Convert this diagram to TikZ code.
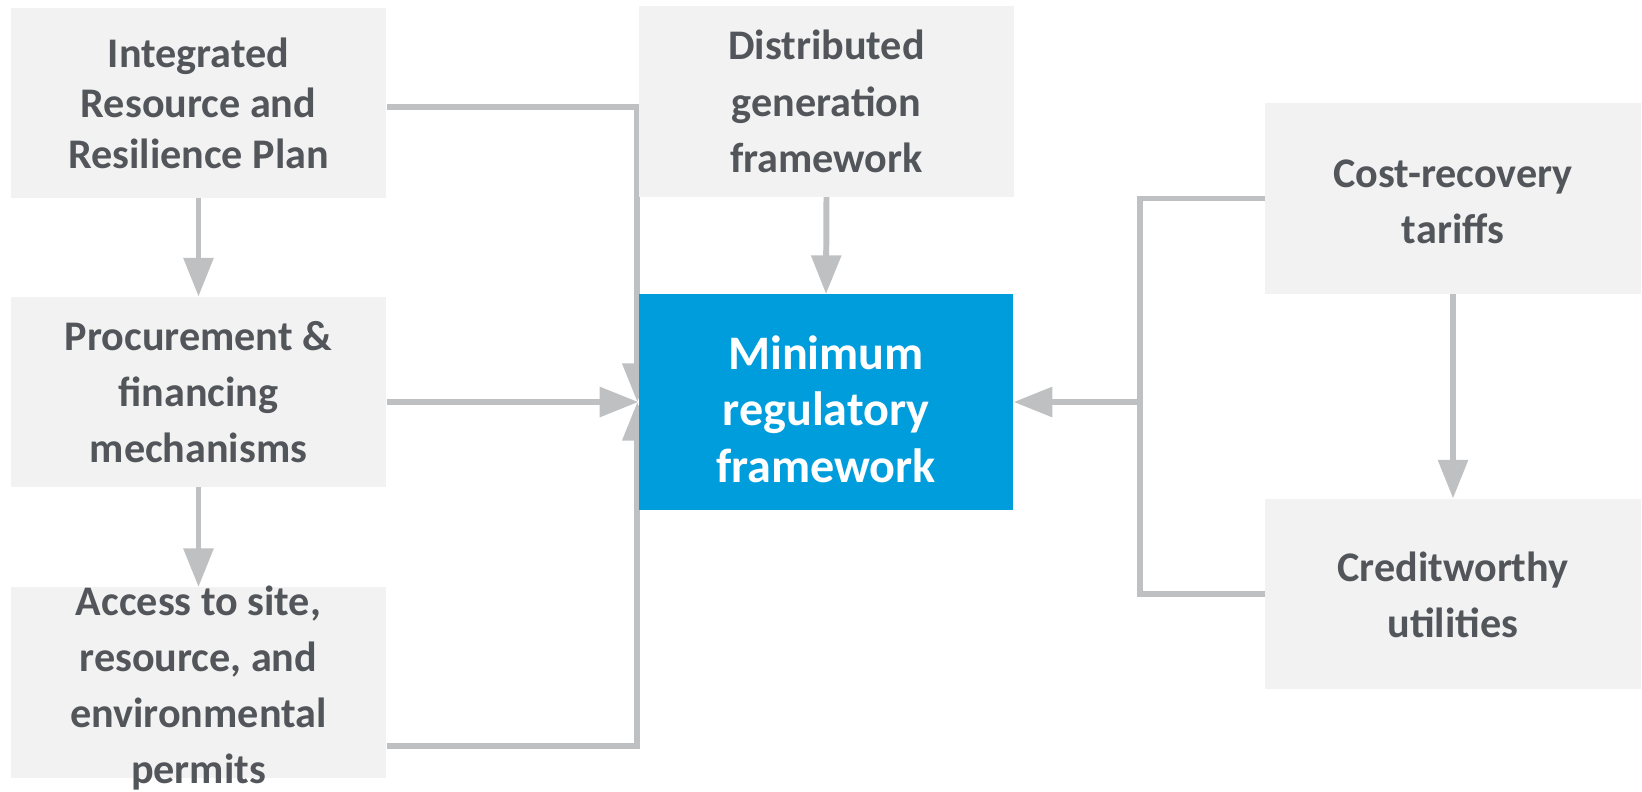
\documentclass[tikz,border=0pt]{standalone}
\usepackage{fontspec}
\setmainfont{Carlito}
\usetikzlibrary{arrows.meta,backgrounds}
\definecolor{boxgray}{RGB}{242,242,242}
\definecolor{textgray}{RGB}{82,85,89}
\definecolor{framework}{RGB}{0,157,220}
\definecolor{linkgray}{RGB}{191,192,194}

\begin{document}
\begin{tikzpicture}[x=0.02cm, y=-0.02cm,
  box/.style={fill=boxgray, text=textgray, minimum width=213.7pt, minimum height=108.3pt,
    inner sep=0pt, align=center, font=\fontsize{24}{32}\selectfont\bfseries},
  boxtext/.style={text=textgray, inner sep=0pt, align=center, font=\fontsize{24}{31.9}\selectfont\bfseries},
  core/.style={fill=framework, text=white, minimum width=213.2pt, minimum height=122.5pt,
    inner sep=0pt, align=center, font=\fontsize{27.4}{32.3}\selectfont\bfseries},
  link/.style={draw=linkgray, line width=3.4pt},
  arrow/.style={link, -{Triangle[width=16.5pt,length=22pt]}}]
  \useasboundingbox (0,0) rectangle (1642,791);
  % Left column
  \node[box, font=\fontsize{24}{28.8}\selectfont\bfseries] (irrp) at (198.5,103)
    {Integrated\\Resource and\\Resilience Plan};
  \node[box] (proc) at (198.5,392) {Procurement \&\\financing\\mechanisms};
  \node[box] (access) at (198.5,682.5) {};
  \node[boxtext] (accesstext) at (198.5,688) {Access to site,\\resource, and\\environmental\\permits};
  % Middle column
  \node[box] (dist) at (826.5,101.5) {Distributed\\generation\\framework};
  \node[core] (core) at (826,402) {\rule{0pt}{27.5pt}Minimum\\regulatory\\framework};
  % Right column
  \node[box] (cost) at (1453,198.5) {\rule{0pt}{19.6pt}Cost-recovery\\tariffs};
  \node[box] (credit) at (1453,594) {\rule{0pt}{17.8pt}Creditworthy\\utilities};
  % Connectors
  \begin{scope}[on background layer]
    \draw[arrow] (irrp.south) -- (proc.north);
    \draw[arrow] (proc.south) -- (access.north);
    \draw[arrow] ([yshift=-2.5pt]irrp.east) -| ([xshift=-0.6pt]core.west);
    \draw[arrow] (proc.east |- core.west) -- (core.west);
    \draw[arrow] ([yshift=-36pt]access.east) -| ([xshift=-0.6pt]core.west);
    \draw[arrow] (dist.south) -- (core.north);
    \draw[arrow] (cost.south) -- (credit.north);
    \coordinate (bus) at (1139.5,402);
    \draw[link] (cost.west) -| (bus) |- (credit.west);
    \draw[arrow] (bus) -- (core.east);
  \end{scope}
\end{tikzpicture}
\end{document}
